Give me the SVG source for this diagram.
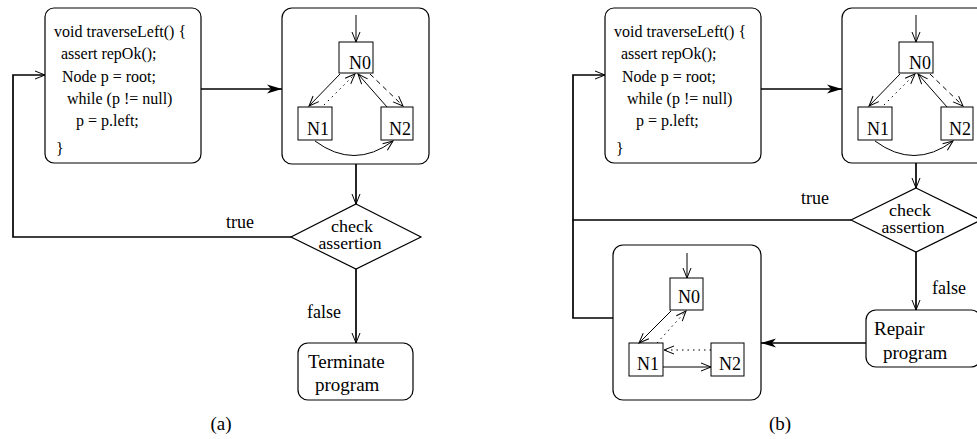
<svg xmlns="http://www.w3.org/2000/svg" width="977" height="439" viewBox="0 0 977 439">
<defs>
<marker id="open" markerUnits="userSpaceOnUse" markerWidth="12" markerHeight="10" refX="10" refY="4" orient="auto" overflow="visible">
<path d="M0,0 L10,4 L0,8" fill="none" stroke="#000" stroke-width="1"/>
</marker>
<marker id="stealth" markerUnits="userSpaceOnUse" markerWidth="16" markerHeight="10" refX="15" refY="4.5" orient="auto" overflow="visible">
<path d="M0,0 L15,4.5 L0,9 L4,4.5 z" fill="#000"/>
</marker>
<style>
.box{fill:#fff;stroke:#000;stroke-width:1.2}
.nb{fill:#fff;stroke:#000;stroke-width:1}
.code{font-family:"Liberation Serif",serif;font-size:16px;fill:#000}
.lbl{font-family:"Liberation Serif",serif;font-size:19px;fill:#000}
.nl{font-family:"Liberation Serif",serif;font-size:18px;fill:#000}
.dt{font-family:"Liberation Serif",serif;font-size:16px;fill:#000;text-anchor:middle}
.main{fill:none;stroke:#000;stroke-width:1.7}
.thin{fill:none;stroke:#000;stroke-width:1}
.dot{stroke-dasharray:1.5 4}
.dash{stroke-dasharray:5 4}
</style>
</defs>

<!-- Panel (a) -->
<g id="a-code">
<rect class="box" x="45" y="8" width="156" height="155" rx="9"/>
<text class="code" x="54" y="37">void traverseLeft() {</text>
<text class="code" x="61" y="59">assert repOk();</text>
<text class="code" x="62" y="82">Node p = root;</text>
<text class="code" x="67" y="104">while (p != null)</text>
<text class="code" x="76" y="126">p = p.left;</text>
<text class="code" x="56" y="154">}</text>
</g>
<g id="a-graph">
<rect class="box" x="282" y="8" width="147" height="156" rx="10"/>
<rect class="nb" x="339" y="42" width="34" height="31"/>
<text class="nl" x="349" y="69">N0</text>
<rect class="nb" x="298" y="107" width="34" height="33"/>
<text class="nl" x="307" y="135">N1</text>
<rect class="nb" x="381" y="107" width="32" height="33"/>
<text class="nl" x="389" y="135">N2</text>
</g>
<g id="a-check">
<polygon class="box" points="356,204 421,237 356,269 291,237"/>
<text class="dt" x="352" y="232" textLength="42" lengthAdjust="spacingAndGlyphs">check</text>
<text class="dt" x="350" y="249" textLength="63" lengthAdjust="spacingAndGlyphs">assertion</text>
</g>
<g id="a-term">
<rect class="box" x="298" y="343" width="115" height="57" rx="10"/>
<text class="lbl" x="308" y="368">Terminate</text>
<text class="lbl" x="315" y="391">program</text>
</g>
<text class="lbl" x="221" y="430" text-anchor="middle">(a)</text>

<!-- Panel (b) -->
<g id="b-code">
<rect class="box" x="605" y="8" width="156" height="155" rx="9"/>
<text class="code" x="614" y="37">void traverseLeft() {</text>
<text class="code" x="621" y="59">assert repOk();</text>
<text class="code" x="622" y="82">Node p = root;</text>
<text class="code" x="627" y="104">while (p != null)</text>
<text class="code" x="636" y="126">p = p.left;</text>
<text class="code" x="616" y="154">}</text>
</g>
<g id="b-graph">
<rect class="box" x="842" y="8" width="147" height="155" rx="10"/>
<rect class="nb" x="899" y="42" width="34" height="31"/>
<text class="nl" x="909" y="69">N0</text>
<rect class="nb" x="858" y="107" width="34" height="33"/>
<text class="nl" x="867" y="135">N1</text>
<rect class="nb" x="941" y="107" width="32" height="33"/>
<text class="nl" x="949" y="135">N2</text>
</g>
<g id="b-check">
<polygon class="box" points="916,188 981,220 916,252 851,220"/>
<text class="dt" x="910" y="216" textLength="42" lengthAdjust="spacingAndGlyphs">check</text>
<text class="dt" x="913" y="233" textLength="63" lengthAdjust="spacingAndGlyphs">assertion</text>
</g>
<g id="b-repair">
<rect class="box" x="866" y="310" width="115" height="57" rx="10"/>
<text class="lbl" x="874" y="335">Repair</text>
<text class="lbl" x="883" y="359">program</text>
</g>
<g id="b-graph2">
<rect class="box" x="613" y="245" width="148" height="155" rx="10"/>
<rect class="nb" x="670" y="278" width="33" height="32"/>
<text class="nl" x="678" y="303">N0</text>
<rect class="nb" x="629" y="343" width="34" height="33"/>
<text class="nl" x="637" y="370">N1</text>
<rect class="nb" x="711" y="343" width="33" height="33"/>
<text class="nl" x="719" y="370">N2</text>
</g>
<text class="lbl" x="780" y="430" text-anchor="middle">(b)</text>

<g id="connectors">
<!-- (a) -->
<line class="main" x1="201" y1="89" x2="282" y2="89" marker-end="url(#stealth)"/>
<line class="main" x1="356" y1="164" x2="356" y2="204" marker-end="url(#open)"/>
<line class="main" x1="356" y1="269" x2="356" y2="343" marker-end="url(#open)"/>
<polyline class="main" points="291,237 13,237 13,75 45,75" marker-end="url(#open)"/>
<text class="nl" x="226" y="228">true</text>
<text class="nl" x="307" y="318">false</text>
<line class="thin" x1="356" y1="15" x2="356" y2="42" marker-end="url(#open)"/>
<line class="thin" x1="340" y1="74" x2="309" y2="106" marker-end="url(#open)"/>
<line class="thin dot" x1="324" y1="105" x2="355" y2="74" marker-end="url(#open)"/>
<line class="thin" x1="387" y1="107" x2="358" y2="74" marker-end="url(#open)"/>
<line class="thin dash" x1="370" y1="74" x2="403" y2="106" marker-end="url(#open)"/>
<path class="thin" d="M315,141 Q354,170 393,141" marker-end="url(#open)"/>
<!-- (b) -->
<line class="main" x1="761" y1="89" x2="842" y2="89" marker-end="url(#stealth)"/>
<line class="main" x1="916" y1="163" x2="916" y2="188" marker-end="url(#open)"/>
<line class="main" x1="916" y1="252" x2="916" y2="310" marker-end="url(#open)"/>
<polyline class="main" points="851,220 573,220 573,75 605,75" marker-end="url(#open)"/>
<polyline class="main" points="613,318 573,318 573,220"/>
<line class="main" x1="866" y1="343" x2="761" y2="343" marker-end="url(#stealth)"/>
<text class="nl" x="801" y="204">true</text>
<text class="nl" x="932" y="294">false</text>
<line class="thin" x1="916" y1="15" x2="916" y2="42" marker-end="url(#open)"/>
<line class="thin" x1="900" y1="74" x2="869" y2="106" marker-end="url(#open)"/>
<line class="thin dot" x1="884" y1="105" x2="915" y2="74" marker-end="url(#open)"/>
<line class="thin" x1="947" y1="107" x2="918" y2="74" marker-end="url(#open)"/>
<line class="thin dash" x1="930" y1="74" x2="963" y2="106" marker-end="url(#open)"/>
<path class="thin" d="M875,141 Q914,170 953,141" marker-end="url(#open)"/>
<line class="thin" x1="687" y1="253" x2="687" y2="278" marker-end="url(#open)"/>
<line class="thin" x1="671" y1="311" x2="639" y2="343" marker-end="url(#open)"/>
<line class="thin dot" x1="657" y1="343" x2="686" y2="311" marker-end="url(#open)"/>
<line class="thin dot" x1="711" y1="350" x2="664" y2="350" marker-end="url(#open)"/>
<line class="thin" x1="663" y1="367" x2="711" y2="367" marker-end="url(#open)"/>
</g>
</svg>
